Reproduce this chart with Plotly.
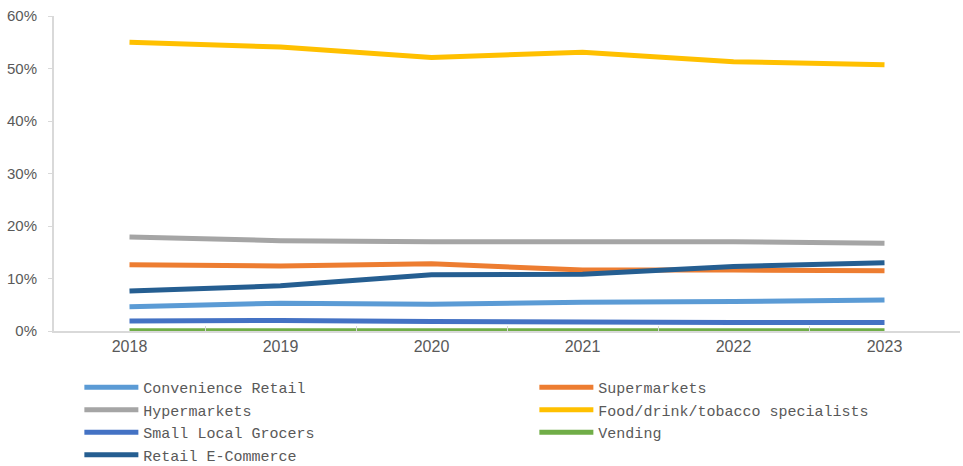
import plotly.graph_objects as go

years = ["2018", "2019", "2020", "2021", "2022", "2023"]
convenience = [4.6, 5.3, 5.1, 5.5, 5.6, 5.9]
supermarkets = [12.6, 12.4, 12.8, 11.6, 11.6, 11.5]
hypermarkets = [17.9, 17.2, 17.0, 17.0, 17.0, 16.7]
food_specialists = [55.0, 54.1, 52.1, 53.1, 51.3, 50.7]
small_grocers = [1.9, 2.0, 1.8, 1.6, 1.6, 1.6]
vending = [0.05, 0.05, 0.05, 0.05, 0.05, 0.05]
ecommerce = [7.6, 8.6, 10.7, 10.8, 12.3, 13.0]

series = [
    ("Convenience Retail", convenience, "#5B9BD5"),
    ("Supermarkets", supermarkets, "#ED7D31"),
    ("Hypermarkets", hypermarkets, "#A5A5A5"),
    ("Food/drink/tobacco specialists", food_specialists, "#FFC000"),
    ("Small Local Grocers", small_grocers, "#4472C4"),
    ("Vending", vending, "#70AD47"),
    ("Retail E-Commerce", ecommerce, "#255E91"),
]

fig = go.Figure()
for name, vals, color in series:
    fig.add_trace(go.Scatter(
        x=years, y=[v / 100 for v in vals], name=name, mode="lines",
        line=dict(color=color, width=5),
    ))

fig.update_layout(
    width=963, height=466,
    margin=dict(l=54, r=3, t=16, b=135, autoexpand=False),
    plot_bgcolor="white", paper_bgcolor="white",
    font=dict(family="Liberation Sans, Arial", color="#595959"),
    showlegend=True,
    legend=dict(
        orientation="h", x=0.028, xanchor="left", y=-0.127, yanchor="top",
        entrywidth=386, entrywidthmode="pixels",
        font=dict(family="Liberation Mono, DejaVu Sans Mono, monospace", size=15, color="#595959"),
        tracegroupgap=0, itemwidth=54,
        bgcolor="rgba(0,0,0,0)",
    ),
    xaxis=dict(
        type="category", range=[-0.5, 5.5],
        showline=True, linecolor="#D9D9D9", linewidth=2,
        ticks="inside", ticklen=5, tickcolor="#D9D9D9", tickson="boundaries",
        showgrid=False, zeroline=False,
        tickfont=dict(size=16, color="#595959"),
    ),
    yaxis=dict(
        range=[0, 0.6], dtick=0.1, tickformat=".0%",
        showline=True, linecolor="#D9D9D9", linewidth=2,
        ticks="outside", ticklen=4, tickcolor="#D9D9D9",
        showgrid=False, zeroline=False,
        tickfont=dict(size=15, color="#595959"),
        ticklabelstandoff=8,
    ),
)

fig.write_html("out.html")
